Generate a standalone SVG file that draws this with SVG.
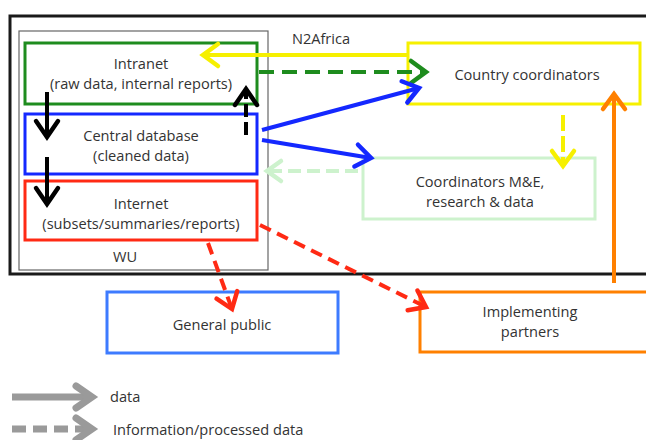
<svg xmlns="http://www.w3.org/2000/svg" width="646" height="440" viewBox="0 0 646 440">
<style>
text{font-family:"Open Sans","Liberation Sans",sans-serif;font-size:14.6px;fill:#333;text-anchor:middle}
.box{fill:#fff;stroke-width:3}
.ln{fill:none;stroke-width:4;stroke-linecap:butt}
.hd{fill:none;stroke-width:4.5;stroke-linecap:round;stroke-linejoin:miter}
</style>
<defs>
<marker id="mk-black" markerUnits="userSpaceOnUse" overflow="visible" orient="auto" refX="0" refY="0" markerWidth="1" markerHeight="1"><path d="M-16,-11 L0,0 L-16,11" class="hd" stroke="#000"/></marker>
<marker id="mk-yellow" markerUnits="userSpaceOnUse" overflow="visible" orient="auto" refX="0" refY="0" markerWidth="1" markerHeight="1"><path d="M-15,-11 L0,0 L-15,11" class="hd" stroke="#f6f000"/></marker>
<marker id="mk-green" markerUnits="userSpaceOnUse" overflow="visible" orient="auto" refX="0" refY="0" markerWidth="1" markerHeight="1"><path d="M-15,-11 L0,0 L-15,11" class="hd" stroke="#1e8c1e"/></marker>
<marker id="mk-blue" markerUnits="userSpaceOnUse" overflow="visible" orient="auto" refX="0" refY="0" markerWidth="1" markerHeight="1"><path d="M-15,-11 L0,0 L-15,11" class="hd" stroke="#1428ff"/></marker>
<marker id="mk-red" markerUnits="userSpaceOnUse" overflow="visible" orient="auto" refX="0" refY="0" markerWidth="1" markerHeight="1"><path d="M-15,-11 L0,0 L-15,11" class="hd" stroke="#ff2a14"/></marker>
<marker id="mk-orange" markerUnits="userSpaceOnUse" overflow="visible" orient="auto" refX="0" refY="0" markerWidth="1" markerHeight="1"><path d="M-15,-11 L0,0 L-15,11" class="hd" stroke="#ff8000"/></marker>
<marker id="mk-lgreen" markerUnits="userSpaceOnUse" overflow="visible" orient="auto" refX="0" refY="0" markerWidth="1" markerHeight="1"><path d="M-14,-10 L0,0 L-14,10" class="hd" stroke="#cdf2cd"/></marker>
<marker id="mk-grey" markerUnits="userSpaceOnUse" overflow="visible" orient="auto" refX="0" refY="0" markerWidth="1" markerHeight="1"><path d="M-16,-11 L0,0 L-16,11" fill="none" stroke="#9a9a9a" stroke-width="7" stroke-linecap="round"/></marker>
</defs>
<rect width="646" height="440" fill="#fff"/>

<g id="frame-n2africa">
<rect x="10" y="16" width="642" height="258" fill="none" stroke="#1a1a1a" stroke-width="3"/>
<text x="321" y="44">N2Africa</text>
</g>
<g id="frame-wu">
<rect x="19" y="31" width="249" height="239" fill="none" stroke="#666" stroke-width="1.2"/>
<text x="125" y="262">WU</text>
</g>

<g id="node-intranet">
<rect class="box" x="25" y="43" width="232" height="61" stroke="#1e8c1e"/>
<text x="141" y="69">Intranet</text>
<text x="141" y="89">(raw data, internal reports)</text>
</g>
<g id="node-central">
<rect class="box" x="25" y="114" width="232" height="60" stroke="#1428ff"/>
<text x="141" y="141">Central database</text>
<text x="141" y="161">(cleaned data)</text>
</g>
<g id="node-internet">
<rect class="box" x="25" y="181" width="232" height="59" stroke="#ff2a14"/>
<text x="141" y="209">Internet</text>
<text x="141" y="229">(subsets/summaries/reports)</text>
</g>
<g id="node-country">
<rect class="box" x="408" y="43" width="232" height="61" stroke="#f6f000"/>
<text x="527" y="80">Country coordinators</text>
</g>
<g id="node-me">
<rect class="box" x="363" y="158" width="232" height="61" stroke="#cdf2cd" stroke-width="2.5"/>
<text x="480" y="187">Coordinators M&amp;E,</text>
<text x="480" y="207">research &amp; data</text>
</g>
<g id="node-public">
<rect class="box" x="107" y="292" width="231" height="61" stroke="#3d7bff"/>
<text x="222" y="330">General public</text>
</g>
<g id="node-partners">
<rect class="box" x="420" y="292" width="240" height="60" stroke="#ff8000"/>
<text x="530" y="317">Implementing</text>
<text x="530" y="337">partners</text>
</g>

<g id="connectors">
<path class="ln" d="M407,55 L203,55" stroke="#f6f000" marker-end="url(#mk-yellow)"/>
<path class="ln" d="M259,72 L426,72" stroke="#1e8c1e" stroke-dasharray="15 8" marker-end="url(#mk-green)"/>
<path class="ln" d="M262,130 L419,88" stroke="#1428ff" marker-end="url(#mk-blue)"/>
<path class="ln" d="M262,140 L371,158" stroke="#1428ff" marker-end="url(#mk-blue)"/>
<path class="ln" d="M358,171 L267,171" stroke="#cdf2cd" stroke-dasharray="13 6" marker-end="url(#mk-lgreen)"/>
<path class="ln" d="M563,115 L563,166" stroke="#f6f000" stroke-dasharray="16 5" marker-end="url(#mk-yellow)"/>
<path class="ln" d="M614,283 L614,94" stroke="#ff8000" marker-end="url(#mk-orange)"/>
<path class="ln" d="M47,92 L47,137" stroke="#000" marker-end="url(#mk-black)"/>
<path class="ln" d="M47,157 L47,204" stroke="#000" marker-end="url(#mk-black)"/>
<path class="ln" d="M246,135 L246,89" stroke="#000" stroke-dasharray="13 5" marker-end="url(#mk-black)"/>
<path class="ln" d="M208,243 L232,309" stroke="#ff2a14" stroke-dasharray="12 7" marker-end="url(#mk-red)"/>
<path class="ln" d="M260,225 L426,307" stroke="#ff2a14" stroke-dasharray="12 7" marker-end="url(#mk-red)"/>
</g>

<g id="legend">
<path d="M12,397 L92,397" fill="none" stroke="#9a9a9a" stroke-width="7" marker-end="url(#mk-grey)"/>
<text x="110" y="402" style="text-anchor:start">data</text>
<path d="M12,429 L92,429" fill="none" stroke="#9a9a9a" stroke-width="7" stroke-dasharray="14 7" marker-end="url(#mk-grey)"/>
<text x="113" y="435" style="text-anchor:start">Information/processed data</text>
</g>
</svg>
